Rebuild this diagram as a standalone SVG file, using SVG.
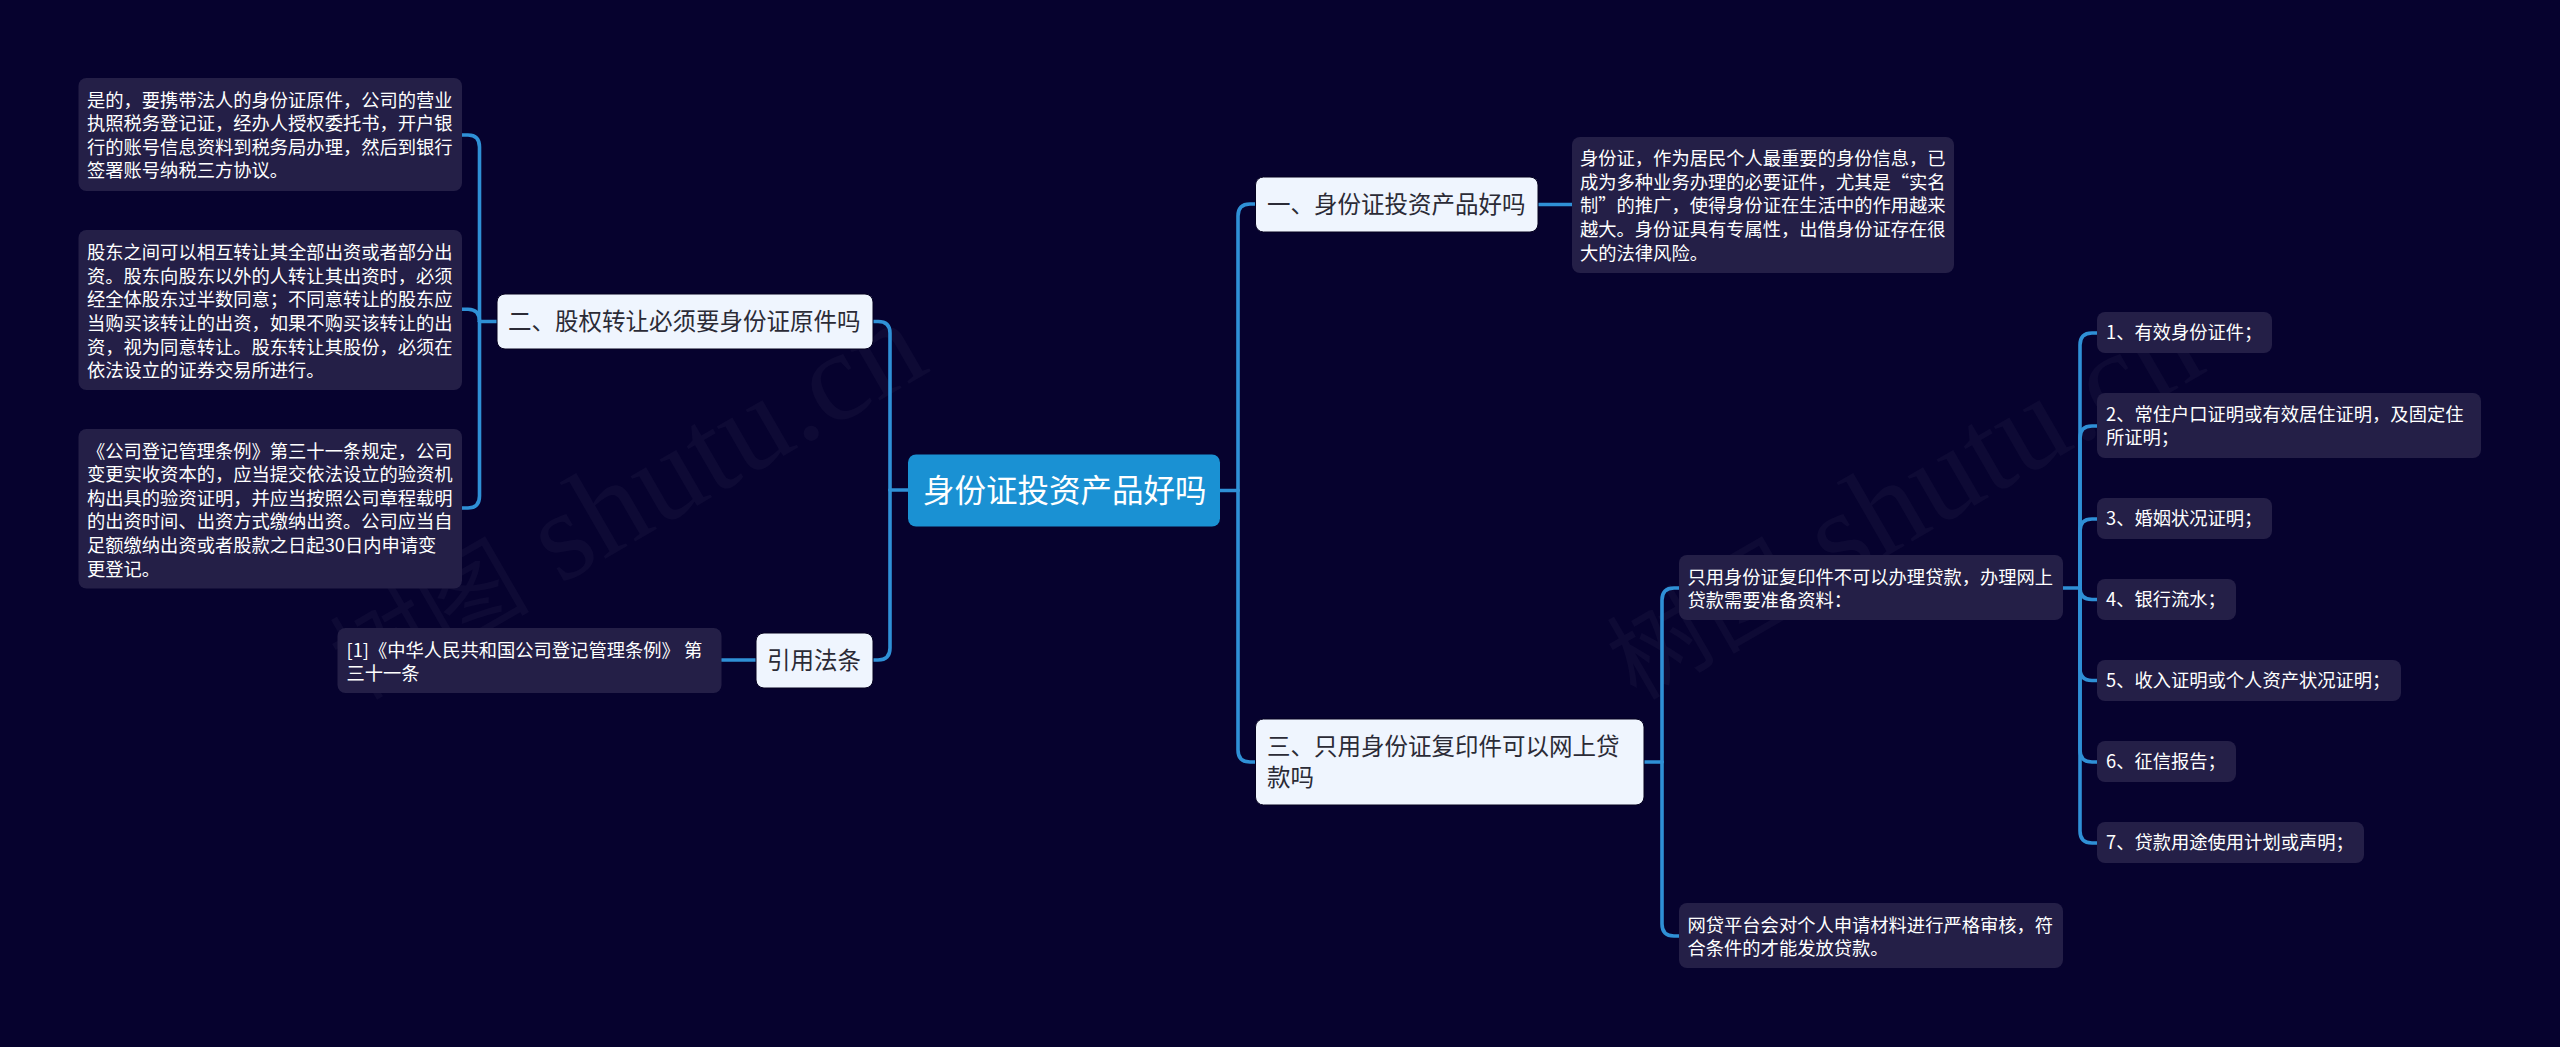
<svg xmlns="http://www.w3.org/2000/svg" width="2560" height="1047" viewBox="0 0 2560 1047" lang="zh-CN">
<style>
text{font-family:"Noto Sans CJK SC","Noto Sans",sans-serif}
.n{fill:#241f47}
.m{fill:#eff5fe;stroke:#04011f;stroke-width:1}
.t{fill:#fff;font-size:18.300px}
.h{fill:#2b2b36;font-size:23.500px}
.c{fill:none;stroke:#2f90d6;stroke-width:3.600;stroke-linecap:round}
.w{fill:#fff;fill-opacity:.035;font-family:"Liberation Serif","Noto Sans CJK SC",serif;font-size:128px}
.wc{font-size:100px}
</style>
<rect width="2560" height="1047" fill="#06022e"/>
<g id="watermarks">
<text class="w" transform="translate(359 701) rotate(-30)"><tspan class="wc">树图</tspan> shutu.cn</text>
<text class="w" transform="translate(1636 701) rotate(-30)"><tspan class="wc">树图</tspan> shutu.cn</text>
</g>
<g id="connectors">
<path class="c" d="M908 490H890"/>
<path class="c" d="M890 490V333Q890 321.500 878 321.500H873"/>
<path class="c" d="M890 490V648Q890 660 878 660H873"/>
<path class="c" d="M1220 490.500H1238"/>
<path class="c" d="M1238 490.500V216Q1238 204 1250 204H1255"/>
<path class="c" d="M1238 490.500V750Q1238 762 1250 762H1255"/>
<path class="c" d="M497 321.500H479.500"/>
<path class="c" d="M479.500 321.500V147Q479.500 135 468 135H462"/>
<path class="c" d="M479.500 321.500Q479.500 309.300 468 309.300H462"/>
<path class="c" d="M479.500 321.500V496Q479.500 508 468 508H462"/>
<path class="c" d="M721.500 660H756"/>
<path class="c" d="M1538 204.500H1572"/>
<path class="c" d="M1644 762H1662"/>
<path class="c" d="M1662 762V600Q1662 588 1674 588H1679"/>
<path class="c" d="M1662 762V924Q1662 936 1674 936H1679"/>
<path class="c" d="M2063 588H2080"/>
<path class="c" d="M2080 588V345Q2080 333 2092 333H2097"/>
<path class="c" d="M2080 588V438Q2080 426 2092 426H2097"/>
<path class="c" d="M2080 588V531Q2080 519 2092 519H2097"/>
<path class="c" d="M2080 588Q2080 599.500 2092 599.500H2097"/>
<path class="c" d="M2080 588V668Q2080 680.500 2092 680.500H2097"/>
<path class="c" d="M2080 588V750Q2080 762 2092 762H2097"/>
<path class="c" d="M2080 588V831Q2080 843 2092 843H2097"/>
</g>
<g id="root">
<rect x="908" y="454.500" width="312" height="72" rx="8" fill="#1a91d3"/>
<text x="923" y="502" font-size="31.500" fill="#fff">身份证投资产品好吗</text>
</g>
<g id="node-1">
<rect class="m" x="1255.500" y="177" width="282.500" height="55" rx="8"/>
<text class="h" x="1267" y="213">一、身份证投资产品好吗</text>
</g>
<g id="node-2">
<rect class="m" x="497" y="294" width="376" height="55" rx="8"/>
<text class="h" x="508" y="330">二、股权转让必须要身份证原件吗</text>
</g>
<g id="node-3">
<rect class="m" x="1255.500" y="719" width="388.500" height="86" rx="8"/>
<text class="h" x="1267" y="755">三、只用身份证复印件可以网上贷</text>
<text class="h" x="1267" y="786">款吗</text>
</g>
<g id="node-ref">
<rect class="m" x="756" y="633" width="117" height="55" rx="8"/>
<text class="h" x="767" y="669">引用法条</text>
</g>
<g id="note-a1">
<rect class="n" x="78.500" y="78" width="383.500" height="113" rx="8"/>
<text class="t" x="87" y="106.500">是的&#xFF0C;要携带法人的身份证原件&#xFF0C;公司的营业</text>
<text class="t" x="87" y="130">执照税务登记证&#xFF0C;经办人授权委托书&#xFF0C;开户银</text>
<text class="t" x="87" y="153.700">行的账号信息资料到税务局办理&#xFF0C;然后到银行</text>
<text class="t" x="87" y="177.400">签署账号纳税三方协议。</text>
</g>
<g id="note-a2">
<rect class="n" x="78.500" y="230" width="383.500" height="160" rx="8"/>
<text class="t" x="87" y="259">股东之间可以相互转让其全部出资或者部分出</text>
<text class="t" x="87" y="282.700">资。股东向股东以外的人转让其出资时&#xFF0C;必须</text>
<text class="t" x="87" y="306.400">经全体股东过半数同意&#xFF1B;不同意转让的股东应</text>
<text class="t" x="87" y="330">当购买该转让的出资&#xFF0C;如果不购买该转让的出</text>
<text class="t" x="87" y="353.500">资&#xFF0C;视为同意转让。股东转让其股份&#xFF0C;必须在</text>
<text class="t" x="87" y="377">依法设立的证券交易所进行。</text>
</g>
<g id="note-a3">
<rect class="n" x="78.500" y="429" width="383.500" height="159.500" rx="8"/>
<text class="t" x="87" y="457.500">《公司登记管理条例》第三十一条规定&#xFF0C;公司</text>
<text class="t" x="87" y="481">变更实收资本的&#xFF0C;应当提交依法设立的验资机</text>
<text class="t" x="87" y="504.700">构出具的验资证明&#xFF0C;并应当按照公司章程载明</text>
<text class="t" x="87" y="528.400">的出资时间、出资方式缴纳出资。公司应当自</text>
<text class="t" x="87" y="552">足额缴纳出资或者股款之日起30日内申请变</text>
<text class="t" x="87" y="575.500">更登记。</text>
</g>
<g id="note-ref">
<rect class="n" x="337.500" y="628" width="384" height="65" rx="8"/>
<text class="t" x="346.500" y="656.500">[1]《中华人民共和国公司登记管理条例》 第</text>
<text class="t" x="346.500" y="680">三十一条</text>
</g>
<g id="note-b1">
<rect class="n" x="1572" y="137" width="382" height="136" rx="8"/>
<text class="t" x="1580" y="165">身份证&#xFF0C;作为居民个人最重要的身份信息&#xFF0C;已</text>
<text class="t" x="1580" y="188.700">成为多种业务办理的必要证件&#xFF0C;尤其是“实名</text>
<text class="t" x="1580" y="212.400">制”的推广&#xFF0C;使得身份证在生活中的作用越来</text>
<text class="t" x="1580" y="236">越大。身份证具有专属性&#xFF0C;出借身份证存在很</text>
<text class="t" x="1580" y="259.700">大的法律风险。</text>
</g>
<g id="note-c1">
<rect class="n" x="1679" y="555" width="384" height="65" rx="8"/>
<text class="t" x="1687.500" y="583.500">只用身份证复印件不可以办理贷款&#xFF0C;办理网上</text>
<text class="t" x="1687.500" y="607">贷款需要准备资料&#xFF1A;</text>
</g>
<g id="note-c2">
<rect class="n" x="1679" y="903" width="384" height="65" rx="8"/>
<text class="t" x="1687.500" y="931.500">网贷平台会对个人申请材料进行严格审核&#xFF0C;符</text>
<text class="t" x="1687.500" y="955">合条件的才能发放贷款。</text>
</g>
<g id="list-1">
<rect class="n" x="2097" y="312" width="175" height="41" rx="8"/>
<text class="t" x="2106" y="339">1、有效身份证件&#xFF1B;</text>
</g>
<g id="list-2">
<rect class="n" x="2097" y="393" width="384" height="65" rx="8"/>
<text class="t" x="2106" y="420.500">2、常住户口证明或有效居住证明&#xFF0C;及固定住</text>
<text class="t" x="2106" y="444">所证明&#xFF1B;</text>
</g>
<g id="list-3">
<rect class="n" x="2097" y="498" width="175" height="41" rx="8"/>
<text class="t" x="2106" y="525">3、婚姻状况证明&#xFF1B;</text>
</g>
<g id="list-4">
<rect class="n" x="2097" y="579" width="139" height="41" rx="8"/>
<text class="t" x="2106" y="606">4、银行流水&#xFF1B;</text>
</g>
<g id="list-5">
<rect class="n" x="2097" y="660" width="304" height="41" rx="8"/>
<text class="t" x="2106" y="687">5、收入证明或个人资产状况证明&#xFF1B;</text>
</g>
<g id="list-6">
<rect class="n" x="2097" y="741" width="139" height="41" rx="8"/>
<text class="t" x="2106" y="768">6、征信报告&#xFF1B;</text>
</g>
<g id="list-7">
<rect class="n" x="2097" y="822" width="267" height="41" rx="8"/>
<text class="t" x="2106" y="849">7、贷款用途使用计划或声明&#xFF1B;</text>
</g>
</svg>
